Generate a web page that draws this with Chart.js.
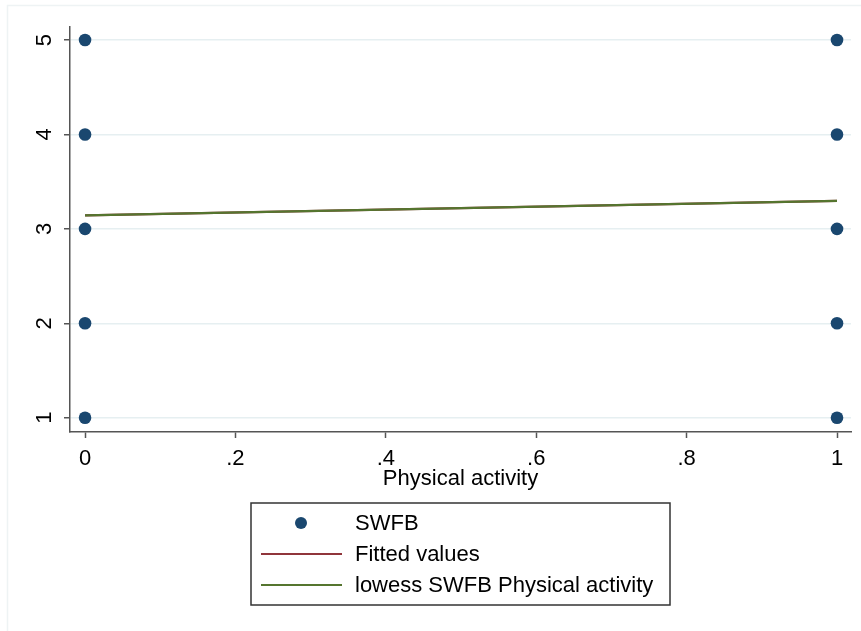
<!DOCTYPE html>
<html>
<head>
<meta charset="utf-8">
<script src="https://cdn.jsdelivr.net/npm/chart.js@4/dist/chart.umd.min.js"></script>
<style>
  html, body { margin: 0; padding: 0; background: #fff; }
  #wrap { width: 861px; height: 631px; position: relative; }
</style>
</head>
<body>
<div id="wrap"><canvas id="c" width="861" height="631"></canvas></div>
<script>
// ---- data ----
const swfbX = [0, 0, 0, 0, 0, 1, 1, 1, 1, 1];
const swfbY = [1, 2, 3, 4, 5, 1, 2, 3, 4, 5];
const fitX = [0, 1];
const fitY = [3.143, 3.296];
const lowessX = [0, 1];
const lowessY = [3.143, 3.296];
const xTicks = [0, 0.2, 0.4, 0.6, 0.8, 1];
const xTickLabels = ['0', '.2', '.4', '.6', '.8', '1'];
const yTicks = [1, 2, 3, 4, 5];
const yTickLabels = ['1', '2', '3', '4', '5'];
const seriesNames = ['SWFB', 'Fitted values', 'lowess SWFB Physical activity'];
const xTitle = 'Physical activity';

const FONT = '"Liberation Sans", Arial, sans-serif';
const FS = 22;
const NAVY = '#1a476f', MAROON = '#90353b', GREEN = '#55752f';
const AXIS = '#555555', GRID = '#e6eff1';

const pts = (xs, ys) => xs.map((x, i) => ({ x: x, y: ys[i] }));

const decor = {
  id: 'decor',
  beforeDraw(chart) {
    const ctx = chart.ctx;
    ctx.save();
    ctx.strokeStyle = '#eef3f4';
    ctx.lineWidth = 1.5;
    ctx.beginPath();
    ctx.moveTo(7.5, 631); ctx.lineTo(7.5, 5.5); ctx.lineTo(861, 5.5);
    ctx.stroke();
    ctx.restore();
  },
  afterDraw(chart) {
    const ctx = chart.ctx;
    const ys = chart.scales.y;
    ctx.save();
    // rotated y tick labels
    ctx.fillStyle = '#000';
    ctx.font = FS + 'px ' + FONT;
    ctx.textAlign = 'center';
    ctx.textBaseline = 'middle';
    yTicks.forEach((v, i) => {
      const py = ys.getPixelForValue(v);
      ctx.save();
      ctx.translate(45, py);
      ctx.rotate(-Math.PI / 2);
      ctx.fillText(yTickLabels[i], 0, 0);
      ctx.restore();
    });
    // legend box
    const bx = 251, by = 503, bw = 419, bh = 102;
    ctx.strokeStyle = '#333';
    ctx.lineWidth = 1.5;
    ctx.strokeRect(bx, by, bw, bh);
    const rows = [523, 554, 585];
    const ds = chart.data.datasets;
    ctx.textAlign = 'left';
    ctx.font = FS + 'px ' + FONT;
    ds.forEach((d, i) => {
      const y = rows[i];
      if (i === 0) {
        ctx.fillStyle = d.backgroundColor;
        ctx.beginPath(); ctx.arc(301, y, 6, 0, Math.PI * 2); ctx.fill();
      } else {
        ctx.strokeStyle = d.borderColor;
        ctx.lineWidth = 2;
        ctx.beginPath(); ctx.moveTo(261, y); ctx.lineTo(342, y); ctx.stroke();
      }
      ctx.fillStyle = '#000';
      ctx.fillText(d.label, 355, y + 1);
    });
    ctx.restore();
  }
};

new Chart(document.getElementById('c'), {
  type: 'scatter',
  data: {
    datasets: [
      { label: seriesNames[0], data: pts(swfbX, swfbY), backgroundColor: NAVY, borderColor: NAVY,
        pointRadius: 6.3, pointBorderWidth: 0, showLine: false, order: 3 },
      { label: seriesNames[1], data: pts(fitX, fitY), borderColor: MAROON, backgroundColor: MAROON,
        showLine: true, pointRadius: 0, borderWidth: 2.2, order: 2 },
      { label: seriesNames[2], data: pts(lowessX, lowessY), borderColor: GREEN, backgroundColor: GREEN,
        showLine: true, pointRadius: 0, borderWidth: 2.2, order: 1 }
    ]
  },
  options: {
    responsive: false,
    animation: false,
    layout: { padding: { left: 0, top: 27, right: 10, bottom: 139 } },
    plugins: { legend: { display: false }, tooltip: { enabled: false } },
    scales: {
      x: {
        type: 'linear',
        min: -0.02, max: 1.0186,
        afterBuildTicks: s => { s.ticks = xTicks.map(v => ({ value: v })); },
        afterFit: s => { s.height = 60; },
        ticks: {
          callback: (v) => { const i = xTicks.indexOf(v); return i >= 0 ? xTickLabels[i] : ''; },
          color: '#000', font: { family: FONT, size: FS }, padding: 8, maxRotation: 0, autoSkip: false
        },
        grid: { drawOnChartArea: false, drawTicks: true, tickLength: 6, tickColor: AXIS, tickWidth: 1.5 },
        border: { display: true, color: AXIS, width: 1.5 },
        title: { display: true, text: xTitle, color: '#000', font: { family: FONT, size: FS }, padding: { top: 0, bottom: 0 } }
      },
      y: {
        type: 'linear',
        min: 0.849, max: 5.138,
        afterBuildTicks: s => { s.ticks = yTicks.map(v => ({ value: v })); },
        afterFit: s => { s.width = 70; },
        ticks: { callback: () => '', padding: 0 },
        grid: { color: GRID, lineWidth: 1.5, drawTicks: true, tickLength: 6, tickColor: AXIS, tickWidth: 1.5 },
        border: { display: true, color: AXIS, width: 1.5 }
      }
    }
  },
  plugins: [decor]
});
</script>
</body>
</html>
